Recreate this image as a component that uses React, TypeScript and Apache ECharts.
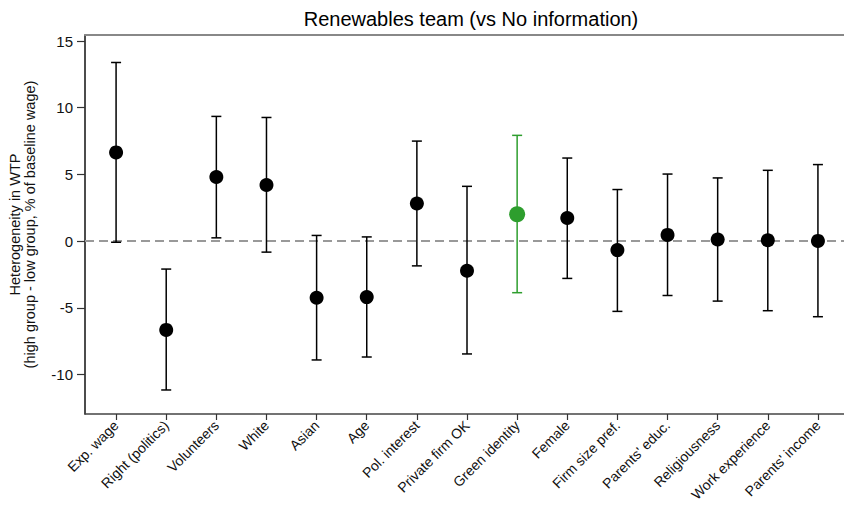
import React, { useEffect, useRef } from "react";
import * as echarts from "echarts";

// Covariates, point estimates and 95% confidence bounds
const categories = [
  "Exp. wage",
  "Right (politics)",
  "Volunteers",
  "White",
  "Asian",
  "Age",
  "Pol. interest",
  "Private firm OK",
  "Green identity",
  "Female",
  "Firm size pref.",
  "Parents' educ.",
  "Religiousness",
  "Work experience",
  "Parents' income",
];
const estimates = [6.65, -6.65, 4.81, 4.21, -4.24, -4.19, 2.82, -2.22, 2.02, 1.74, -0.67, 0.47, 0.13, 0.07, 0.02];
const lowerBounds = [-0.08, -11.15, 0.25, -0.82, -8.9, -8.68, -1.85, -8.45, -3.86, -2.79, -5.26, -4.07, -4.49, -5.21, -5.66];
const upperBounds = [13.39, -2.09, 9.35, 9.27, 0.43, 0.32, 7.5, 4.11, 7.93, 6.23, 3.87, 5.03, 4.74, 5.31, 5.74];
const highlighted = "Green identity";
const yTicks = [-10, -5, 0, 5, 10, 15];

const BLACK = "#000000";
const GREEN = "#2e9e2e";
const FONT = "Liberation Sans, Arial, Helvetica, sans-serif";

export default function App() {
  const ref = useRef<HTMLDivElement>(null);

  useEffect(() => {
    if (!ref.current) return;
    const chart = echarts.init(ref.current, undefined, { renderer: "svg" });
    const positions = categories.map((_, i) => i + 1);
    const colorOf = (i: number) => (categories[i] === highlighted ? GREEN : BLACK);
    const zeroLine = { color: "#999999", width: 2, type: [9, 5] as number[], opacity: 1 };

    chart.setOption({
      animation: false,
      backgroundColor: "#ffffff",
      textStyle: { fontFamily: FONT },
      title: {
        text: "Renewables team (vs No information)",
        left: 466,
        top: 4,
        textAlign: "center",
        textStyle: { fontSize: 20, fontWeight: "normal", color: "#000", fontFamily: FONT },
      },
      grid: { left: 85, right: 0, top: 35, bottom: 94, containLabel: false, outerBoundsMode: "none" },
      xAxis: [
        {
          type: "value",
          min: 0.38,
          max: 15.52,
          position: "bottom",
          splitLine: { show: false },
          axisLine: { show: true, onZero: false, lineStyle: { color: "#444", width: 1.5 } },
          axisTick: { show: true, customValues: positions, length: 6, lineStyle: { color: "#333", width: 1.2 } },
          axisLabel: {
            show: true,
            customValues: positions,
            rotate: 45,
            margin: 9,
            fontSize: 14,
            color: "#111",
            fontFamily: FONT,
            formatter: (v: number) => categories[Math.round(v) - 1] ?? "",
          },
        },
        {
          type: "value",
          min: 0.38,
          max: 15.52,
          position: "top",
          splitLine: { show: false },
          axisLine: { show: true, onZero: false, lineStyle: { color: "#888", width: 2 } },
          axisTick: { show: false },
          axisLabel: { show: false },
        },
      ],
      yAxis: {
        type: "value",
        min: -12.95,
        max: 15.45,
        splitLine: { show: false },
        axisLine: { show: true, onZero: false, lineStyle: { color: "#111", width: 1.5 } },
        axisTick: { show: true, customValues: yTicks, length: 8, lineStyle: { color: "#333", width: 1.2 } },
        axisLabel: { show: true, customValues: yTicks, margin: 12, fontSize: 15, color: "#111", fontFamily: FONT },
        name: "Heterogeneity in WTP\n(high group - low group, % of baseline wage)",
        nameLocation: "middle",
        nameRotate: 90,
        nameGap: 48,
        nameTextStyle: { fontSize: 14.5, lineHeight: 15, color: "#111", fontFamily: FONT, align: "center" },
      },
      series: [
        {
          type: "custom",
          z: 3,
          data: categories.map((_, i) => [i + 1, lowerBounds[i], upperBounds[i]]),
          renderItem: (params: any, api: any) => {
            const i = params.dataIndex;
            const x = api.value(0);
            const lo = api.coord([x, api.value(1)]);
            const hi = api.coord([x, api.value(2)]);
            const half = 5;
            const style = { stroke: colorOf(i), lineWidth: 1.5 };
            return {
              type: "group",
              children: [
                { type: "line", shape: { x1: lo[0], y1: lo[1], x2: hi[0], y2: hi[1] }, style },
                { type: "line", shape: { x1: hi[0] - half, y1: hi[1], x2: hi[0] + half, y2: hi[1] }, style },
                { type: "line", shape: { x1: lo[0] - half, y1: lo[1], x2: lo[0] + half, y2: lo[1] }, style },
              ],
            };
          },
        },
        {
          type: "scatter",
          z: 4,
          symbol: "circle",
          itemStyle: { opacity: 1 },
          data: categories.map((name, i) => ({
            value: [i + 1, estimates[i]],
            symbolSize: name === highlighted ? 16 : 14,
            itemStyle: { color: colorOf(i), opacity: 1 },
          })),
          markLine: {
            silent: true,
            symbol: "none",
            z: 1,
            label: { show: false },
            lineStyle: zeroLine,
            emphasis: { disabled: true },
            data: [{ yAxis: 0, lineStyle: zeroLine }],
          },
        },
      ],
    });

    return () => chart.dispose();
  }, []);

  return (
    <div
      ref={ref}
      style={{ position: "fixed", left: 0, top: 0, width: 844, height: 508, background: "#fff" }}
    />
  );
}
